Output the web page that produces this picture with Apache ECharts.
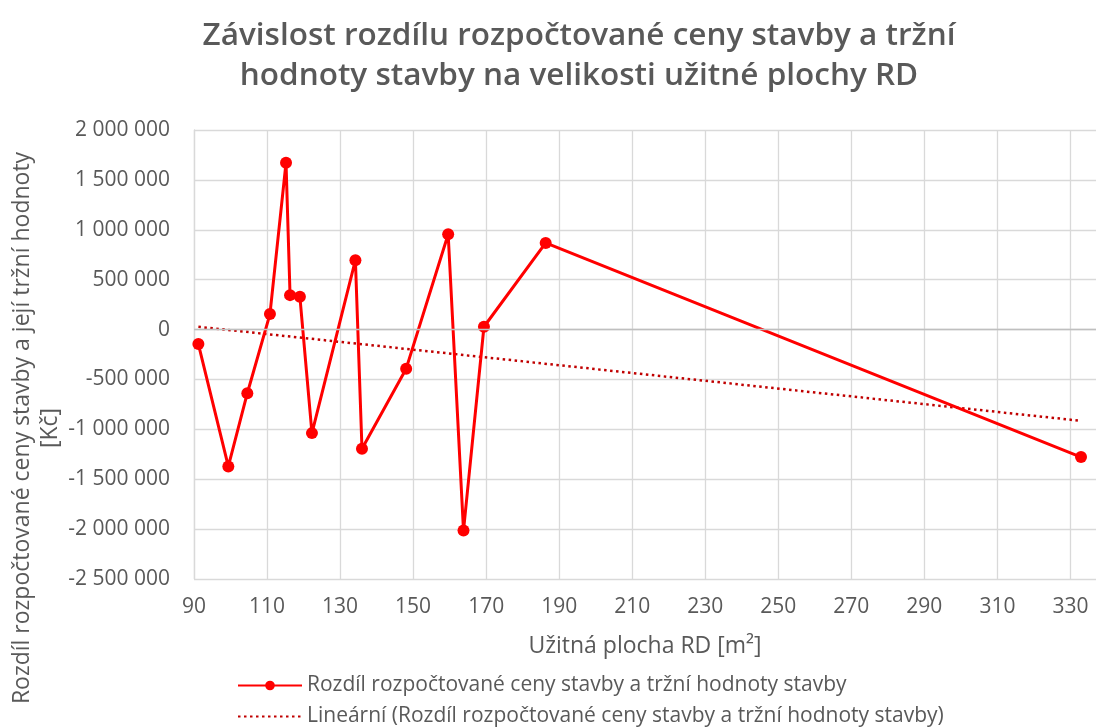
<!DOCTYPE html>
<html>
<head>
<meta charset="utf-8">
<script src="https://cdn.jsdelivr.net/npm/echarts@6/dist/echarts.min.js"></script>
<style>
  html, body { margin: 0; padding: 0; background: #fff; }
  #main { width: 1096px; height: 727px; }
</style>
</head>
<body>
<div id="main"></div>
<script>
// užitná plocha RD [m2]
var plocha = [91.2, 99.4, 104.6, 110.8, 115.2, 116.3, 119.0, 122.3, 134.2, 136.0, 148.1, 159.6, 163.8, 169.4, 186.3, 332.9]
// rozdíl rozpočtované ceny a tržní hodnoty [Kč]
var rozdil = [-145000, -1372000, -638000, 155000, 1672000, 345000, 328000, -1038000, 695000, -1195000, -392000, 955000, -2015000, 28000, 868000, -1278000]
// koncové body lineárního trendu
var trendX = [91.2, 332.9]
var trendY = [28000, -915000]
var xTicks = [90, 110, 130, 150, 170, 190, 210, 230, 250, 270, 290, 310, 330]

var nazev1 = 'Rozdíl rozpočtované ceny stavby a tržní hodnoty stavby'
var nazev2 = 'Lineární (Rozdíl rozpočtované ceny stavby a tržní hodnoty stavby)'

var font = '"Open Sans", "Noto Sans", sans-serif'
var grey = '#595959'

function fmt(v) {
  var s = String(Math.abs(v)).replace(/\B(?=(\d{3})+(?!\d))/g, ' ')
  return (v < 0 ? '-' : '') + s
}

var chartDom = document.getElementById('main')
var myChart = echarts.init(chartDom)

var legendBase = {
  left: 232,
  itemWidth: 64,
  itemHeight: 12,
  itemGap: 8,
  textStyle: { fontFamily: font, fontSize: 21, color: grey },
}

var option = {
  animation: false,
  textStyle: { fontFamily: font },
  title: {
    text: 'Závislost rozdílu rozpočtované ceny stavby a tržní\nhodnoty stavby na velikosti užitné plochy RD',
    left: 574,
    top: 11,
    textAlign: 'center',
    textStyle: {
      fontFamily: font,
      fontSize: 31.5,
      fontWeight: 600,
      color: grey,
      lineHeight: 40,
    },
  },
  grid: {
    left: 194,
    right: 0,
    top: 130,
    bottom: 148,
    containLabel: false,
  },
  legend: [
    Object.assign({}, legendBase, { top: 670, data: [nazev1] }),
    Object.assign({}, legendBase, {
      top: 701,
      data: [{ name: nazev2, itemStyle: { opacity: 0 } }],
    }),
  ],
  graphic: [
    {
      type: 'text',
      x: 36,
      y: 428,
      rotation: Math.PI / 2,
      style: {
        text: 'Rozdíl rozpočtované ceny stavby a její tržní hodnoty\n[Kč]',
        font: '23px ' + font,
        fill: grey,
        align: 'center',
        verticalAlign: 'middle',
        lineHeight: 28,
      },
    },
  ],
  xAxis: {
    type: 'value',
    min: 90,
    max: 337,
    name: 'Užitná plocha RD [m²]',
    nameLocation: 'middle',
    nameGap: 56,
    nameTextStyle: { fontFamily: font, fontSize: 23, color: grey },
    axisLine: { show: false },
    axisTick: { show: false, customValues: xTicks },
    axisLabel: {
      customValues: xTicks,
      fontSize: 21,
      color: grey,
      margin: 18,
    },
    splitLine: { show: true, lineStyle: { color: '#d9d9d9', width: 1.3 } },
  },
  yAxis: {
    type: 'value',
    min: -2500000,
    max: 2000000,
    interval: 500000,
    axisLine: { show: true, lineStyle: { color: '#d9d9d9', width: 1.3 } },
    axisTick: { show: false },
    axisLabel: {
      fontSize: 21,
      color: grey,
      margin: 24,
      formatter: fmt,
    },
    splitLine: { show: true, lineStyle: { color: '#d9d9d9', width: 1.3 } },
  },
  series: [
    {
      name: nazev1,
      type: 'line',
      data: plocha.map(function (x, i) { return [x, rozdil[i]] }),
      symbol: 'circle',
      symbolSize: 12,
      showAllSymbol: true,
      itemStyle: { color: '#ff0000' },
      lineStyle: { color: '#ff0000', width: 3 },
      z: 3,
    },
    {
      name: nazev2,
      type: 'line',
      data: trendX.map(function (x, i) { return [x, trendY[i]] }),
      symbol: 'none',
      itemStyle: { color: '#c00000' },
      lineStyle: { color: '#c00000', width: 2.5, type: [2.5, 3.5] },
      markLine: {
        silent: true,
        symbol: 'none',
        label: { show: false },
        lineStyle: { color: '#bfbfbf', width: 1.3, type: 'solid' },
        data: [{ yAxis: 0 }],
      },
      z: 2,
    },
  ],
}

option && myChart.setOption(option)

window.addEventListener('resize', function () {
  myChart.resize()
})
</script>
</body>
</html>
